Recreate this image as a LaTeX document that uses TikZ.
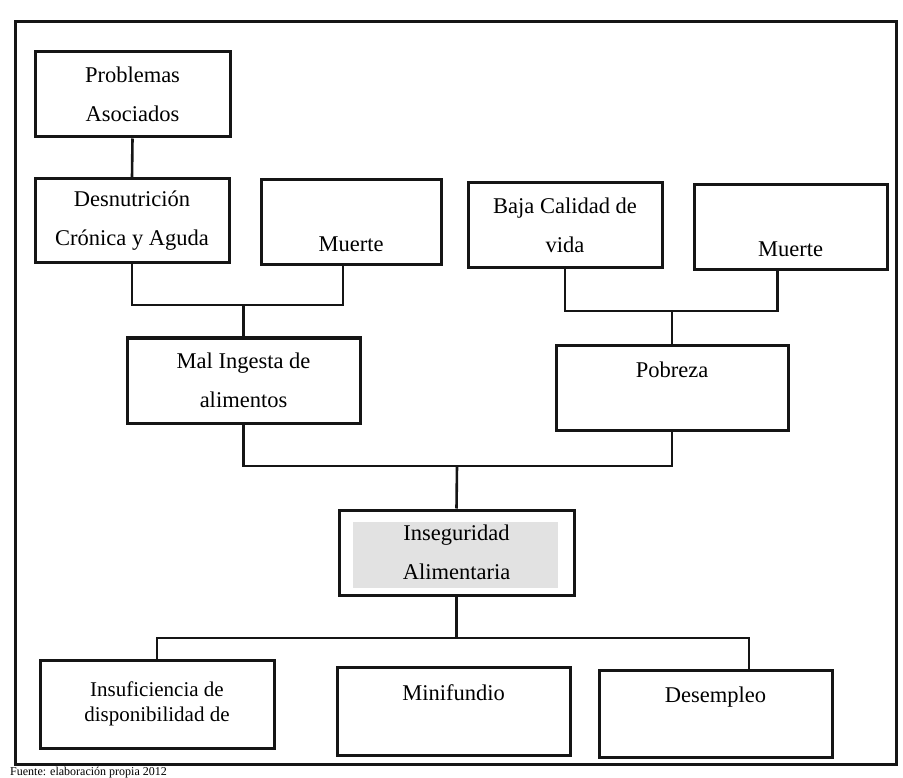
\documentclass[tikz,border=0pt]{standalone}
\usepackage{fontspec}
\setmainfont{Liberation Serif}
\usepackage{xcolor}
\usepackage{tikz}
\definecolor{inkblack}{HTML}{151515}
\definecolor{insgray}{HTML}{E2E2E2}

\begin{document}
\begin{tikzpicture}[x=1pt, y=-1pt,
    block/.style={rectangle, draw=inkblack, line width=3pt, align=center, inner sep=2pt, font=\fontsize{22.5}{39}\selectfont},
    link/.style={draw=inkblack, line width=2.6pt},
    frame/.style={draw=inkblack, line width=3pt}]
    \useasboundingbox (0,0) rectangle (903,778);
    \draw[frame] (15,22) rectangle (896,764);
    \node[block, minimum width=195pt, minimum height=85pt] (pa) at (132.5,94.5) {Problemas\\Asociados};
    \node[block, minimum width=194pt, minimum height=84pt] (dn) at (132,221) {Desnutrición\\Crónica y Aguda};
    \node[block, minimum width=180pt, minimum height=85pt, text height=59pt] (m1) at (351,222.5) {Muerte};
    \node[block, minimum width=194pt, minimum height=85pt] (bc) at (565,225.5) {Baja Calidad de\\vida};
    \node[block, minimum width=193pt, minimum height=85pt, text height=59pt] (m2) at (790.5,227.5) {Muerte};
    \node[block, minimum width=233pt, minimum height=85pt] (mi) at (243.5,380.5) {Mal Ingesta de\\alimentos};
    \node[block, minimum width=232pt, minimum height=85pt, text depth=36pt] (pb) at (672,387.5) {Pobreza};
    \node[block, minimum width=235pt, minimum height=85pt,
        path picture={\fill[insgray] ([shift={(14pt,-12pt)}]path picture bounding box.north west) rectangle ([shift={(-16pt,7pt)}]path picture bounding box.south east);}] (is) at (456.5,552.5) {Inseguridad\\Alimentaria};
    \node[block, minimum width=234pt, minimum height=88pt, font=\fontsize{21}{25}\selectfont] (ins) at (157,704) {Insuficiencia de\\disponibilidad de};
    \node[block, minimum width=233pt, minimum height=88pt, text depth=37pt] (mf) at (453.5,711) {Minifundio};
    \node[block, minimum width=233pt, minimum height=87pt, text depth=38pt] (de) at (715.5,713.5) {Desempleo};
    \node[anchor=base west, inner sep=0pt, font=\fontsize{12}{14}\selectfont] (src) at (10,775) {Fuente: elaboración propia 2012};
    % junctions of the tree
    \coordinate (j1) at (243.5,305);
    \coordinate (j2) at (672,311);
    \coordinate (j3) at (457,466);
    \coordinate (j4) at (456.5,638);
    \draw[link] (pa.south) -- (dn.north);
    \draw[link] (dn.south) |- (j1) -| ([xshift=-8pt]m1.south);
    \draw[link] (j1) -- (mi.north);
    \draw[link] (bc.south) |- (j2) -| ([xshift=-13pt]m2.south);
    \draw[link] (j2) -- (pb.north);
    \draw[link] (mi.south) |- (j3) -| (pb.south);
    \draw[link] (j3) -- (is.north);
    \draw[link] (is.south) -- (j4);
    \draw[link] (ins.north) |- (j4) -| ([xshift=33.5pt]de.north);
\end{tikzpicture}
\end{document}
